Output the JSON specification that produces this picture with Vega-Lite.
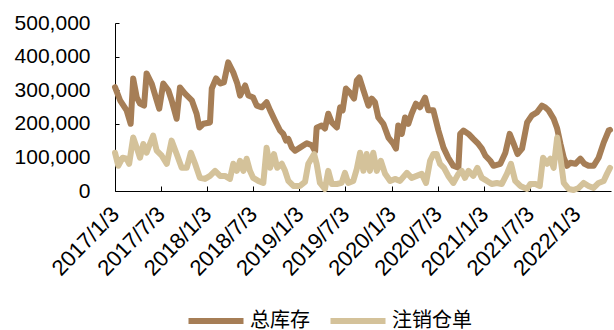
{
  "$schema": "https://vega.github.io/schema/vega-lite/v6.json",
  "autosize": "none",
  "width": 496,
  "height": 168,
  "padding": {"left": 115, "top": 23, "right": 3, "bottom": 139},
  "background": "white",
  "config": {
    "view": {"stroke": null},
    "axis": {"grid": false, "domainColor": "#000000", "tickColor": "#000000", "labelColor": "#000000", "labelFont": "Liberation Sans", "labelFontSize": 21}
  },
  "data": {
    "values": [
      {"date": "2017-01-03", "series": "总库存", "value": 309000},
      {"date": "2017-01-23", "series": "总库存", "value": 270000},
      {"date": "2017-02-18", "series": "总库存", "value": 240000},
      {"date": "2017-03-06", "series": "总库存", "value": 200000},
      {"date": "2017-03-16", "series": "总库存", "value": 335000},
      {"date": "2017-03-30", "series": "总库存", "value": 279000},
      {"date": "2017-04-12", "series": "总库存", "value": 260000},
      {"date": "2017-04-28", "series": "总库存", "value": 254000},
      {"date": "2017-05-08", "series": "总库存", "value": 350000},
      {"date": "2017-05-28", "series": "总库存", "value": 320000},
      {"date": "2017-06-17", "series": "总库存", "value": 270000},
      {"date": "2017-06-27", "series": "总库存", "value": 245000},
      {"date": "2017-07-13", "series": "总库存", "value": 320000},
      {"date": "2017-08-02", "series": "总库存", "value": 300000},
      {"date": "2017-08-15", "series": "总库存", "value": 270000},
      {"date": "2017-09-04", "series": "总库存", "value": 215000},
      {"date": "2017-09-17", "series": "总库存", "value": 308000},
      {"date": "2017-10-07", "series": "总库存", "value": 290000},
      {"date": "2017-11-03", "series": "总库存", "value": 270000},
      {"date": "2017-11-22", "series": "总库存", "value": 230000},
      {"date": "2017-12-03", "series": "总库存", "value": 189000},
      {"date": "2017-12-19", "series": "总库存", "value": 200000},
      {"date": "2018-01-14", "series": "总库存", "value": 204000},
      {"date": "2018-01-21", "series": "总库存", "value": 305000},
      {"date": "2018-02-07", "series": "总库存", "value": 335000},
      {"date": "2018-02-23", "series": "总库存", "value": 320000},
      {"date": "2018-03-10", "series": "总库存", "value": 323000},
      {"date": "2018-03-27", "series": "总库存", "value": 383000},
      {"date": "2018-04-16", "series": "总库存", "value": 353000},
      {"date": "2018-05-02", "series": "总库存", "value": 320000},
      {"date": "2018-05-13", "series": "总库存", "value": 284000},
      {"date": "2018-06-02", "series": "总库存", "value": 314000},
      {"date": "2018-06-15", "series": "总库存", "value": 284000},
      {"date": "2018-07-04", "series": "总库存", "value": 278000},
      {"date": "2018-07-18", "series": "总库存", "value": 254000},
      {"date": "2018-08-07", "series": "总库存", "value": 249000},
      {"date": "2018-08-26", "series": "总库存", "value": 264000},
      {"date": "2018-09-09", "series": "总库存", "value": 240000},
      {"date": "2018-09-28", "series": "总库存", "value": 210000},
      {"date": "2018-10-18", "series": "总库存", "value": 180000},
      {"date": "2018-10-31", "series": "总库存", "value": 170000},
      {"date": "2018-11-11", "series": "总库存", "value": 150000},
      {"date": "2018-11-20", "series": "总库存", "value": 155000},
      {"date": "2018-12-04", "series": "总库存", "value": 129000},
      {"date": "2018-12-17", "series": "总库存", "value": 120000},
      {"date": "2019-01-05", "series": "总库存", "value": 129000},
      {"date": "2019-02-01", "series": "总库存", "value": 142000},
      {"date": "2019-02-21", "series": "总库存", "value": 136000},
      {"date": "2019-03-06", "series": "总库存", "value": 118000},
      {"date": "2019-03-12", "series": "总库存", "value": 188000},
      {"date": "2019-04-01", "series": "总库存", "value": 195000},
      {"date": "2019-04-14", "series": "总库存", "value": 186000},
      {"date": "2019-04-27", "series": "总库存", "value": 230000},
      {"date": "2019-05-11", "series": "总库存", "value": 204000},
      {"date": "2019-05-31", "series": "总库存", "value": 189000},
      {"date": "2019-06-13", "series": "总库存", "value": 249000},
      {"date": "2019-06-23", "series": "总库存", "value": 240000},
      {"date": "2019-07-06", "series": "总库存", "value": 305000},
      {"date": "2019-07-22", "series": "总库存", "value": 293000},
      {"date": "2019-08-07", "series": "总库存", "value": 275000},
      {"date": "2019-08-18", "series": "总库存", "value": 329000},
      {"date": "2019-08-28", "series": "总库存", "value": 338000},
      {"date": "2019-09-13", "series": "总库存", "value": 300000},
      {"date": "2019-10-03", "series": "总库存", "value": 254000},
      {"date": "2019-10-16", "series": "总库存", "value": 275000},
      {"date": "2019-10-29", "series": "总库存", "value": 264000},
      {"date": "2019-11-11", "series": "总库存", "value": 219000},
      {"date": "2019-12-01", "series": "总库存", "value": 200000},
      {"date": "2019-12-21", "series": "总库存", "value": 159000},
      {"date": "2020-01-10", "series": "总库存", "value": 140000},
      {"date": "2020-01-20", "series": "总库存", "value": 126000},
      {"date": "2020-01-29", "series": "总库存", "value": 195000},
      {"date": "2020-02-12", "series": "总库存", "value": 170000},
      {"date": "2020-02-25", "series": "总库存", "value": 219000},
      {"date": "2020-03-09", "series": "总库存", "value": 200000},
      {"date": "2020-03-22", "series": "总库存", "value": 230000},
      {"date": "2020-04-08", "series": "总库存", "value": 260000},
      {"date": "2020-04-24", "series": "总库存", "value": 249000},
      {"date": "2020-05-14", "series": "总库存", "value": 278000},
      {"date": "2020-05-27", "series": "总库存", "value": 240000},
      {"date": "2020-06-16", "series": "总库存", "value": 240000},
      {"date": "2020-07-06", "series": "总库存", "value": 180000},
      {"date": "2020-07-26", "series": "总库存", "value": 129000},
      {"date": "2020-08-14", "series": "总库存", "value": 99000},
      {"date": "2020-09-03", "series": "总库存", "value": 75000},
      {"date": "2020-09-23", "series": "总库存", "value": 69000},
      {"date": "2020-09-30", "series": "总库存", "value": 170000},
      {"date": "2020-10-13", "series": "总库存", "value": 180000},
      {"date": "2020-11-02", "series": "总库存", "value": 170000},
      {"date": "2020-11-21", "series": "总库存", "value": 155000},
      {"date": "2020-12-11", "series": "总库存", "value": 140000},
      {"date": "2020-12-25", "series": "总库存", "value": 126000},
      {"date": "2021-01-08", "series": "总库存", "value": 105000},
      {"date": "2021-01-27", "series": "总库存", "value": 90000},
      {"date": "2021-02-09", "series": "总库存", "value": 75000},
      {"date": "2021-03-08", "series": "总库存", "value": 81000},
      {"date": "2021-03-28", "series": "总库存", "value": 114000},
      {"date": "2021-04-14", "series": "总库存", "value": 170000},
      {"date": "2021-04-30", "series": "总库存", "value": 140000},
      {"date": "2021-05-15", "series": "总库存", "value": 110000},
      {"date": "2021-06-02", "series": "总库存", "value": 126000},
      {"date": "2021-06-22", "series": "总库存", "value": 204000},
      {"date": "2021-07-11", "series": "总库存", "value": 225000},
      {"date": "2021-07-31", "series": "总库存", "value": 234000},
      {"date": "2021-08-20", "series": "总库存", "value": 254000},
      {"date": "2021-09-02", "series": "总库存", "value": 249000},
      {"date": "2021-09-15", "series": "总库存", "value": 240000},
      {"date": "2021-10-05", "series": "总库存", "value": 215000},
      {"date": "2021-10-19", "series": "总库存", "value": 186000},
      {"date": "2021-11-01", "series": "总库存", "value": 140000},
      {"date": "2021-11-14", "series": "总库存", "value": 99000},
      {"date": "2021-11-27", "series": "总库存", "value": 75000},
      {"date": "2021-12-10", "series": "总库存", "value": 84000},
      {"date": "2021-12-30", "series": "总库存", "value": 81000},
      {"date": "2022-01-19", "series": "总库存", "value": 96000},
      {"date": "2022-02-04", "series": "总库存", "value": 81000},
      {"date": "2022-02-20", "series": "总库存", "value": 75000},
      {"date": "2022-03-12", "series": "总库存", "value": 75000},
      {"date": "2022-04-01", "series": "总库存", "value": 99000},
      {"date": "2022-04-21", "series": "总库存", "value": 144000},
      {"date": "2022-05-11", "series": "总库存", "value": 180000},
      {"date": "2022-05-16", "series": "总库存", "value": 182000},
      {"date": "2017-01-03", "series": "注销仓单", "value": 114000},
      {"date": "2017-01-16", "series": "注销仓单", "value": 75000},
      {"date": "2017-02-02", "series": "注销仓单", "value": 99000},
      {"date": "2017-02-18", "series": "注销仓单", "value": 96000},
      {"date": "2017-02-28", "series": "注销仓单", "value": 81000},
      {"date": "2017-03-16", "series": "注销仓单", "value": 159000},
      {"date": "2017-03-30", "series": "注销仓单", "value": 129000},
      {"date": "2017-04-12", "series": "注销仓单", "value": 99000},
      {"date": "2017-04-25", "series": "注销仓单", "value": 140000},
      {"date": "2017-05-08", "series": "注销仓单", "value": 114000},
      {"date": "2017-05-21", "series": "注销仓单", "value": 140000},
      {"date": "2017-06-03", "series": "注销仓单", "value": 165000},
      {"date": "2017-06-17", "series": "注销仓单", "value": 120000},
      {"date": "2017-07-07", "series": "注销仓单", "value": 105000},
      {"date": "2017-07-27", "series": "注销仓单", "value": 81000},
      {"date": "2017-08-15", "series": "注销仓单", "value": 150000},
      {"date": "2017-09-04", "series": "注销仓单", "value": 110000},
      {"date": "2017-09-24", "series": "注销仓单", "value": 69000},
      {"date": "2017-10-14", "series": "注销仓单", "value": 69000},
      {"date": "2017-10-30", "series": "注销仓单", "value": 114000},
      {"date": "2017-11-16", "series": "注销仓单", "value": 81000},
      {"date": "2017-12-05", "series": "注销仓单", "value": 39000},
      {"date": "2017-12-25", "series": "注销仓单", "value": 36000},
      {"date": "2018-01-14", "series": "注销仓单", "value": 45000},
      {"date": "2018-02-03", "series": "注销仓单", "value": 60000},
      {"date": "2018-02-23", "series": "注销仓单", "value": 45000},
      {"date": "2018-03-14", "series": "注销仓单", "value": 45000},
      {"date": "2018-04-03", "series": "注销仓单", "value": 36000},
      {"date": "2018-04-16", "series": "注销仓单", "value": 81000},
      {"date": "2018-04-30", "series": "注销仓单", "value": 60000},
      {"date": "2018-05-13", "series": "注销仓单", "value": 90000},
      {"date": "2018-05-26", "series": "注销仓单", "value": 60000},
      {"date": "2018-06-08", "series": "注销仓单", "value": 96000},
      {"date": "2018-06-21", "series": "注销仓单", "value": 60000},
      {"date": "2018-07-04", "series": "注销仓单", "value": 39000},
      {"date": "2018-07-24", "series": "注销仓单", "value": 30000},
      {"date": "2018-08-13", "series": "注销仓单", "value": 24000},
      {"date": "2018-08-26", "series": "注销仓单", "value": 129000},
      {"date": "2018-09-09", "series": "注销仓单", "value": 69000},
      {"date": "2018-09-24", "series": "注销仓单", "value": 110000},
      {"date": "2018-10-07", "series": "注销仓单", "value": 69000},
      {"date": "2018-10-25", "series": "注销仓单", "value": 81000},
      {"date": "2018-11-07", "series": "注销仓单", "value": 60000},
      {"date": "2018-11-20", "series": "注销仓单", "value": 30000},
      {"date": "2018-12-10", "series": "注销仓单", "value": 15000},
      {"date": "2019-01-05", "series": "注销仓单", "value": 15000},
      {"date": "2019-01-25", "series": "注销仓单", "value": 27000},
      {"date": "2019-02-07", "series": "注销仓单", "value": 81000},
      {"date": "2019-03-02", "series": "注销仓单", "value": 110000},
      {"date": "2019-03-12", "series": "注销仓单", "value": 81000},
      {"date": "2019-03-25", "series": "注销仓单", "value": 24000},
      {"date": "2019-04-14", "series": "注销仓单", "value": 6000},
      {"date": "2019-04-27", "series": "注销仓单", "value": 60000},
      {"date": "2019-05-11", "series": "注销仓单", "value": 21000},
      {"date": "2019-05-31", "series": "注销仓单", "value": 21000},
      {"date": "2019-06-19", "series": "注销仓单", "value": 24000},
      {"date": "2019-07-02", "series": "注销仓单", "value": 54000},
      {"date": "2019-07-15", "series": "注销仓单", "value": 24000},
      {"date": "2019-08-04", "series": "注销仓单", "value": 30000},
      {"date": "2019-08-18", "series": "注销仓单", "value": 66000},
      {"date": "2019-08-31", "series": "注销仓单", "value": 114000},
      {"date": "2019-09-13", "series": "注销仓单", "value": 60000},
      {"date": "2019-09-26", "series": "注销仓单", "value": 110000},
      {"date": "2019-10-09", "series": "注销仓单", "value": 60000},
      {"date": "2019-10-22", "series": "注销仓单", "value": 114000},
      {"date": "2019-11-05", "series": "注销仓单", "value": 60000},
      {"date": "2019-11-21", "series": "注销仓单", "value": 90000},
      {"date": "2019-12-08", "series": "注销仓单", "value": 51000},
      {"date": "2019-12-28", "series": "注销仓单", "value": 30000},
      {"date": "2020-01-16", "series": "注销仓单", "value": 36000},
      {"date": "2020-02-05", "series": "注销仓单", "value": 30000},
      {"date": "2020-03-03", "series": "注销仓单", "value": 54000},
      {"date": "2020-03-22", "series": "注销仓单", "value": 39000},
      {"date": "2020-04-11", "series": "注销仓单", "value": 45000},
      {"date": "2020-05-01", "series": "注销仓单", "value": 51000},
      {"date": "2020-05-18", "series": "注销仓单", "value": 24000},
      {"date": "2020-06-03", "series": "注销仓单", "value": 90000},
      {"date": "2020-06-16", "series": "注销仓单", "value": 110000},
      {"date": "2020-06-29", "series": "注销仓单", "value": 110000},
      {"date": "2020-07-12", "series": "注销仓单", "value": 81000},
      {"date": "2020-07-28", "series": "注销仓单", "value": 69000},
      {"date": "2020-08-14", "series": "注销仓单", "value": 45000},
      {"date": "2020-09-03", "series": "注销仓单", "value": 24000},
      {"date": "2020-09-23", "series": "注销仓单", "value": 51000},
      {"date": "2020-10-06", "series": "注销仓单", "value": 60000},
      {"date": "2020-10-19", "series": "注销仓单", "value": 39000},
      {"date": "2020-11-02", "series": "注销仓单", "value": 60000},
      {"date": "2020-11-21", "series": "注销仓单", "value": 45000},
      {"date": "2020-12-07", "series": "注销仓单", "value": 69000},
      {"date": "2020-12-25", "series": "注销仓单", "value": 39000},
      {"date": "2021-01-14", "series": "注销仓单", "value": 30000},
      {"date": "2021-02-02", "series": "注销仓单", "value": 21000},
      {"date": "2021-02-22", "series": "注销仓单", "value": 24000},
      {"date": "2021-03-14", "series": "注销仓单", "value": 21000},
      {"date": "2021-04-03", "series": "注销仓单", "value": 51000},
      {"date": "2021-04-19", "series": "注销仓单", "value": 81000},
      {"date": "2021-05-06", "series": "注销仓单", "value": 30000},
      {"date": "2021-05-26", "series": "注销仓单", "value": 15000},
      {"date": "2021-06-22", "series": "注销仓单", "value": 6000},
      {"date": "2021-07-05", "series": "注销仓单", "value": 21000},
      {"date": "2021-07-25", "series": "注销仓单", "value": 21000},
      {"date": "2021-08-11", "series": "注销仓单", "value": 15000},
      {"date": "2021-08-24", "series": "注销仓单", "value": 99000},
      {"date": "2021-09-09", "series": "注销仓单", "value": 81000},
      {"date": "2021-09-22", "series": "注销仓单", "value": 96000},
      {"date": "2021-10-05", "series": "注销仓单", "value": 69000},
      {"date": "2021-10-19", "series": "注销仓单", "value": 159000},
      {"date": "2021-11-01", "series": "注销仓单", "value": 99000},
      {"date": "2021-11-14", "series": "注销仓单", "value": 24000},
      {"date": "2021-12-03", "series": "注销仓单", "value": 6000},
      {"date": "2021-12-23", "series": "注销仓单", "value": 3000},
      {"date": "2022-01-12", "series": "注销仓单", "value": 9000},
      {"date": "2022-02-01", "series": "注销仓单", "value": 24000},
      {"date": "2022-02-20", "series": "注销仓单", "value": 15000},
      {"date": "2022-03-12", "series": "注销仓单", "value": 9000},
      {"date": "2022-04-01", "series": "注销仓单", "value": 24000},
      {"date": "2022-04-21", "series": "注销仓单", "value": 30000},
      {"date": "2022-05-04", "series": "注销仓单", "value": 51000},
      {"date": "2022-05-16", "series": "注销仓单", "value": 69000}
    ]
  },
  "mark": {"type": "line", "strokeWidth": 6, "strokeJoin": "round", "strokeCap": "round", "clip": false},
  "encoding": {
    "x": {
      "field": "date",
      "type": "temporal",
      "scale": {
        "type": "utc",
        "domain": [
          {"year": 2017, "month": 1, "date": 3, "utc": true},
          {"year": 2022, "month": 5, "date": 20, "utc": true}
        ]
      },
      "axis": {
        "title": null,
        "format": "%Y/%-m/%-d",
        "values": [
          {"year": 2017, "month": 1, "date": 3, "utc": true},
          {"year": 2017, "month": 7, "date": 3, "utc": true},
          {"year": 2018, "month": 1, "date": 3, "utc": true},
          {"year": 2018, "month": 7, "date": 3, "utc": true},
          {"year": 2019, "month": 1, "date": 3, "utc": true},
          {"year": 2019, "month": 7, "date": 3, "utc": true},
          {"year": 2020, "month": 1, "date": 3, "utc": true},
          {"year": 2020, "month": 7, "date": 3, "utc": true},
          {"year": 2021, "month": 1, "date": 3, "utc": true},
          {"year": 2021, "month": 7, "date": 3, "utc": true},
          {"year": 2022, "month": 1, "date": 3, "utc": true}
        ],
        "labelAngle": -46,
        "labelFontSize": 22,
        "labelPadding": 24,
        "tickSize": -5,
        "labelOverlap": false,
        "labelFlush": false
      }
    },
    "y": {
      "field": "value",
      "type": "quantitative",
      "scale": {"domain": [0, 500000], "nice": false},
      "axis": {
        "title": null,
        "values": [0, 100000, 200000, 300000, 400000, 500000],
        "format": ",.0f",
        "tickSize": -4,
        "labelPadding": 29,
        "labelOverlap": false
      }
    },
    "color": {
      "field": "series",
      "type": "nominal",
      "sort": ["总库存", "注销仓单"],
      "scale": {"domain": ["总库存", "注销仓单"], "range": ["#A67E56", "#D4C29A"]},
      "legend": {
        "title": null,
        "orient": "none",
        "direction": "horizontal",
        "legendX": 88,
        "legendY": 285,
        "symbolType": "M-2.75,0H2.75",
        "symbolSize": 400,
        "symbolStrokeWidth": 6,
        "symbolFillColor": "transparent",
        "labelFont": "Noto Sans CJK SC",
        "labelFontSize": 20,
        "labelColor": "#000000",
        "labelLimit": 300,
        "columnPadding": 8,
        "labelOffset": 21
      }
    }
  }
}
